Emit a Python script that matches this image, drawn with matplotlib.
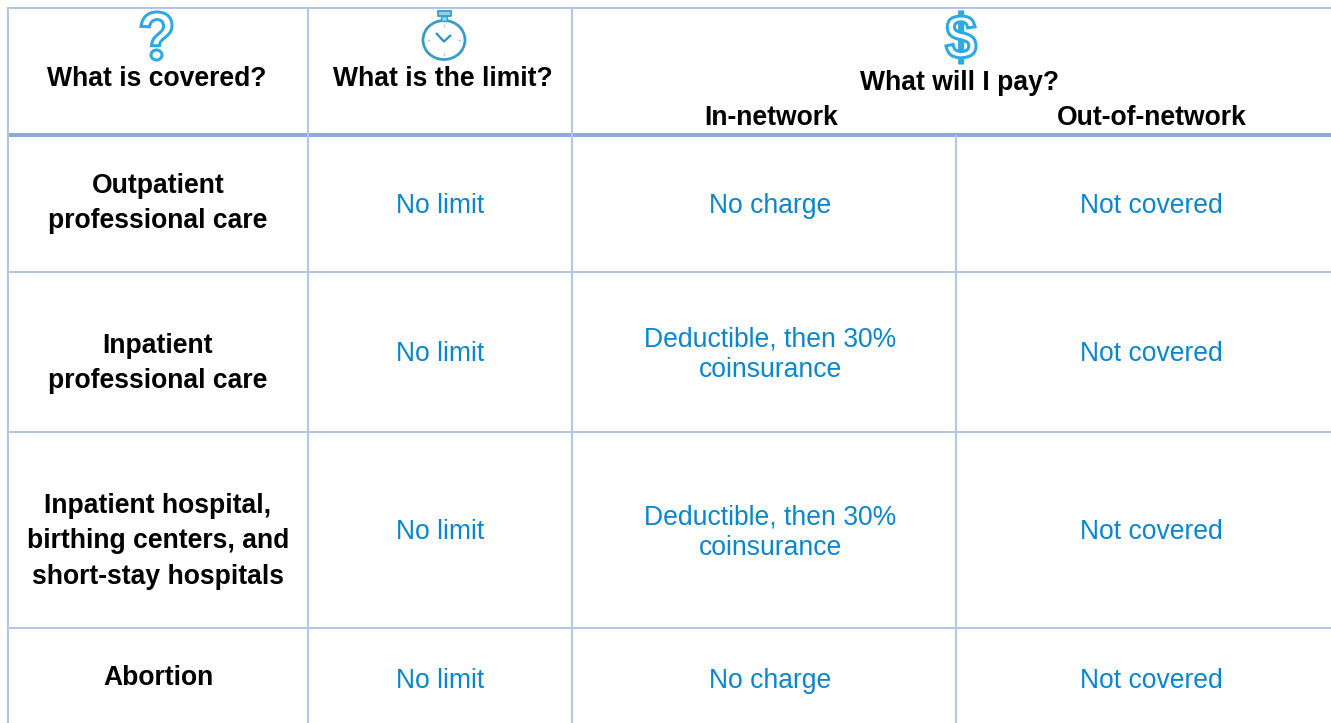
"""Benefit table rebuilt in pixel coordinates."""
import matplotlib
matplotlib.use("Agg")
import matplotlib.pyplot as plt
from matplotlib.font_manager import FontProperties
from matplotlib.patches import Ellipse, PathPatch, Rectangle
from matplotlib.textpath import TextPath
from matplotlib.transforms import Affine2D

WIDTH, HEIGHT = 1331, 723
LINE = "#b4c6e7"
THICK = "#8eaadb"
BLUE = "#0a86cc"
ICON = "#2fa9e0"
WATCH = "#3a9cc8"
FONT_SIZE = 19.1

column_headers = ["What is covered?", "What is the limit?"]
pay_header = "What will I pay?"
pay_columns = ["In-network", "Out-of-network"]
services = [
    "Outpatient\nprofessional care",
    "Inpatient\nprofessional care",
    "Inpatient hospital,\nbirthing centers, and\nshort-stay hospitals",
    "Abortion",
]
limits = ["No limit", "No limit", "No limit", "No limit"]
in_network = [
    "No charge",
    "Deductible, then 30%\ncoinsurance",
    "Deductible, then 30%\ncoinsurance",
    "No charge",
]
out_network = ["Not covered", "Not covered", "Not covered", "Not covered"]

# layout, in reference pixels
col_x = [8, 308, 572, 956]
row_y = [272, 432, 628]
service_base = [193, 353, 513, 685]
value_base = [213, 361, 539, 688]
network_base = [213, 347, 525, 688]


def lines_at(ax, x, y, text, pitch, **kw):
    """Draw each line of text on its own baseline, y is the first one."""
    for n, part in enumerate(text.split("\n")):
        ax.text(x, y + n * pitch, part, ha="center", va="baseline", fontsize=FONT_SIZE, **kw)


def glyph_icon(ax, char, x0, y0, x1, y1):
    """Outlined glyph stretched to fit a pixel box."""
    prop = FontProperties(family="Liberation Sans", weight="bold")
    tp = TextPath((0, 0), char, size=10, prop=prop)
    bb = tp.get_extents()
    tr = (
        Affine2D()
        .translate(-bb.x0, -bb.y0)
        .scale((x1 - x0) / bb.width, -(y1 - y0) / bb.height)
        .translate(x0, y1)
    )
    ax.add_patch(PathPatch(tr.transform_path(tp), fc="white", ec=ICON, lw=2.2, zorder=3))


def stopwatch(ax, cx, cy):
    ax.add_patch(Ellipse((cx, cy), 42, 39, fc="white", ec=WATCH, lw=2, zorder=3))
    ax.add_patch(Rectangle((cx - 6, 11), 13, 5, fc="#8fd0ea", ec=WATCH, lw=1.3, zorder=3))
    ax.add_patch(Rectangle((cx - 3, 16), 6, 5, fc="#8fd0ea", ec=WATCH, lw=1.0, zorder=3))
    ax.plot([cx - 8, cx, cx + 7], [cy - 7, cy + 1.5, cy - 5], color="#2a8fc0", lw=1.6, zorder=4)
    for dx, dy in [(0, -1), (1, 0), (0, 1), (-1, 0)]:
        ax.plot(
            [cx + dx * 14, cx + dx * 17],
            [cy + dy * 13, cy + dy * 16],
            color="#a9d3e6", lw=1, zorder=4,
        )


plt.rcParams["font.family"] = ["Liberation Sans", "DejaVu Sans"]
plt.rcParams["lines.solid_capstyle"] = "butt"

fig = plt.figure(figsize=(WIDTH / 100, HEIGHT / 100), dpi=100, facecolor="white")
ax = fig.add_axes([0, 0, 1, 1])
ax.set_xlim(0, WIDTH)
ax.set_ylim(HEIGHT, 0)
ax.axis("off")

# grid lines
ax.plot([7, WIDTH], [8, 8], color=LINE, lw=1.44)
ax.plot([7, WIDTH], [135, 135], color=THICK, lw=2.9, zorder=2)
for y in row_y:
    ax.plot([7, WIDTH], [y, y], color=LINE, lw=1.44)
for x in col_x[:3]:
    ax.plot([x, x], [7, HEIGHT], color=LINE, lw=1.44)
ax.plot([col_x[3], col_x[3]], [135, HEIGHT], color=LINE, lw=1.44)

# header
head = dict(fontweight="bold", color="black")
lines_at(ax, 157, 86, column_headers[0], 0, **head)
lines_at(ax, 443, 86, column_headers[1], 0, **head)
lines_at(ax, 960, 90, pay_header, 0, **head)
lines_at(ax, 771, 125, pay_columns[0], 0, **head)
lines_at(ax, 1152, 125, pay_columns[1], 0, **head)

glyph_icon(ax, "?", 141, 12, 172, 60)
# the glyph has a square dot, the reference a round one
ax.add_patch(Rectangle((149, 49), 14, 13, fc="white", ec="none", zorder=3.5))
ax.add_patch(Ellipse((156.5, 55), 11, 10, fc="white", ec=ICON, lw=2.2, zorder=4))
stopwatch(ax, 444, 40)
glyph_icon(ax, "$", 946, 12, 976, 63)

# body
for i, service in enumerate(services):
    lines_at(ax, 158, service_base[i], service, 35.3, **head)
    lines_at(ax, 440, value_base[i], limits[i], 0, color=BLUE)
    lines_at(ax, 770, network_base[i], in_network[i], 30, color=BLUE)
    lines_at(ax, 1151, value_base[i], out_network[i], 0, color=BLUE)

fig.savefig("out.png", dpi=100)
